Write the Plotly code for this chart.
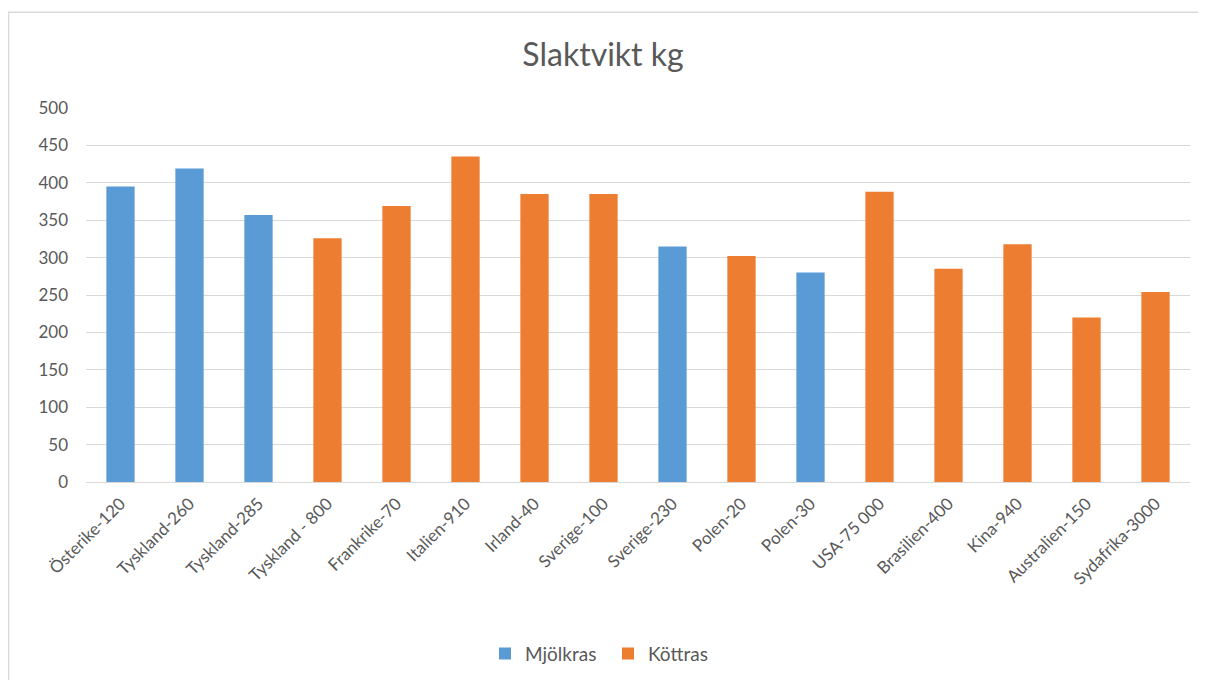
import plotly.graph_objects as go

categories = ["Österike-120", "Tyskland-260", "Tyskland-285", "Tyskland - 800", "Frankrike-70",
              "Italien-910", "Irland-40", "Sverige-100", "Sverige-230", "Polen-20", "Polen-30",
              "USA-75 000", "Brasilien-400", "Kina-940", "Australien-150", "Sydafrika-3000"]
mjolkras = [395, 419, 357, None, None, None, None, None, 315, None, 280, None, None, None, None, None]
kottras = [None, None, None, 326, 369, 435, 385, 385, None, 302, None, 388, 285, 318, 220, 254]
y_ticks = [0, 50, 100, 150, 200, 250, 300, 350, 400, 450, 500]

# page body has an 8px margin; work in screen coordinates and subtract it
OFF = 8
W, H = 1206 - 2 * OFF, 688 - 2 * OFF
ml = 86 - OFF
mr = W - (1190 - OFF)
mt = 108 - OFF
mb = H - (487 - OFF)
pw, ph = W - ml - mr, H - mt - mb

def px(sx):
    return (sx - OFF - ml) / pw

def py(sy):
    return (H - mb - (sy - OFF)) / ph

FONT = "Lato, Carlito, Open Sans, sans-serif"

fig = go.Figure()
fig.add_trace(go.Bar(x=categories, y=mjolkras, name="Mjölkras", marker_color="#5B9BD5",
                     marker_line_width=0))
fig.add_trace(go.Bar(x=categories, y=kottras, name="Köttras", marker_color="#ED7D31",
                     marker_line_width=0))

fig.update_layout(
    width=W, height=H,
    margin=dict(l=ml, r=mr, t=mt, b=mb),
    paper_bgcolor="white", plot_bgcolor="white",
    barmode="overlay", bargap=0.59,
    font=dict(family=FONT, color="#595959", size=17),
    title=dict(text="Slaktvikt kg", x=0.5, xanchor="center", y=1 - (55 - OFF) / H, yanchor="middle",
               font=dict(size=32, color="#595959", family=FONT)),
    showlegend=True,
    legend=dict(orientation="h", x=px(608), xanchor="center", y=py(661), yanchor="middle",
                font=dict(size=19, color="#595959", family=FONT), traceorder="normal",
                itemwidth=30, entrywidth=78, entrywidthmode="pixels"),
    xaxis=dict(tickangle=-45, showgrid=False, showline=True, linecolor="#D9D9D9", linewidth=1,
               ticks="", ticklabelstandoff=4, tickfont=dict(size=17, color="#595959", family=FONT)),
    yaxis=dict(range=[0, 500], tickvals=y_ticks, showgrid=True, gridcolor="#D9D9D9", gridwidth=1,
               zeroline=False, showline=False, ticks="", ticklabelstandoff=17,
               tickfont=dict(size=17, color="#595959", family=FONT)),
    shapes=[
        dict(type="line", xref="paper", yref="paper", x0=px(8), x1=px(1206), y0=py(11), y1=py(11),
             line=dict(color="#D9D9D9", width=1.5)),
        dict(type="line", xref="paper", yref="paper", x0=px(8.5), x1=px(8.5), y0=py(11), y1=py(688),
             line=dict(color="#D9D9D9", width=1.5)),
    ],
)

fig.write_html("out.html")
